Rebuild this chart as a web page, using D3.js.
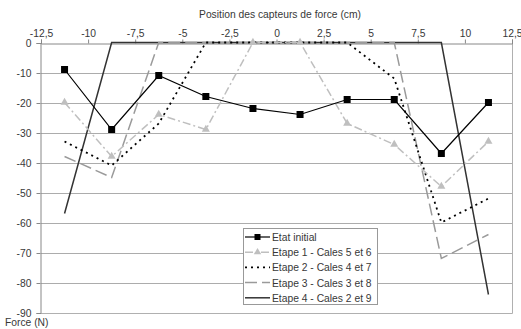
<!DOCTYPE html>
<html>
<head>
<meta charset="utf-8">
<script src="https://cdn.jsdelivr.net/npm/d3@7"></script>
<style>
  body { margin: 0; background: #fff; }
  text { font-family: "Liberation Sans", Arial, sans-serif; font-size: 10.3px; fill: #383838; }
</style>
</head>
<body>
<div id="chart"></div>
<script>
// sensor positions (cm)
var positions = [-11.25, -8.75, -6.25, -3.75, -1.25, 1.25, 3.75, 6.25, 8.75, 11.25];

// force values (N) per step
var etat_initial = [-9, -29, -11, -18, -22, -24, -19, -19, -37, -20];
var etape_1 = [-20, -38, -24, -29, 0, 0, -27, -34, -48, -33];
var etape_2 = [-33, -41, -27, 0, 0, 0, 0, -12, -60, -52];
var etape_3 = [-38, -45, 0, 0, 0, 0, 0, 0, -72, -64];
var etape_4 = [-57, 0, 0, 0, 0, 0, 0, 0, 0, -84];

var series_names = ["Etat initial", "Etape 1 - Cales 5 et 6", "Etape 2 - Cales 4 et 7",
                    "Etape 3 - Cales 3 et 8", "Etape 4 - Cales 2 et 9"];

var x_ticks = [-12.5, -10, -7.5, -5, -2.5, 0, 2.5, 5, 7.5, 10, 12.5];
var y_ticks = [0, -10, -20, -30, -40, -50, -60, -70, -80, -90];

var W = 521, H = 329;
var pl = 41, pr = 512, pt = 42.5, pb = 312.5;   // plot area edges

var x = d3.scaleLinear().domain([-12.5, 12.5]).range([pl, pr]);
var y = d3.scaleLinear().domain([-90, 0]).range([pb, pt]);

var svg = d3.select("#chart").append("svg")
            .attr("width", W).attr("height", H);

// grid lines
svg.append("g").selectAll("line")
   .data(y_ticks.filter(function(d) { return d < 0 && d > -90; }))
   .enter().append("line")
   .attr("x1", pl).attr("x2", pr)
   .attr("y1", function(d) { return Math.round(y(d)) + 0.5; })
   .attr("y2", function(d) { return Math.round(y(d)) + 0.5; })
   .style("stroke", "#acacac").style("stroke-width", 1);

// plot border (right + bottom)
svg.append("path")
   .attr("d", "M" + (pr + 0.5) + "," + pt + "V" + (Math.round(pb) + 0.5) + "H" + pl)
   .style("fill", "none").style("stroke", "#b0b0b0");

var style_axis = function(g) {
  g.select(".domain").style("stroke", "#888");
  g.selectAll(".tick line").style("stroke", "#888");
  g.selectAll("text").style("font-family", "Liberation Sans, Arial, sans-serif")
   .style("font-size", "10.3px").style("fill", "#383838");
};

// y axis
var yAxis = d3.axisLeft(y).tickValues(y_ticks).tickSize(4).tickPadding(5)
              .tickFormat(function(d) { return d; });
svg.append("g").attr("transform", "translate(" + (pl - 0.5) + ",0.5)").call(yAxis).call(style_axis);

// top axis at y = 0
var xAxis = d3.axisTop(x).tickValues(x_ticks).tickSize(4).tickPadding(3)
              .tickFormat(function(d) { return String(d).replace(".", ","); });
svg.append("g").attr("transform", "translate(0," + (Math.round(pt) + 0.5) + ")").call(xAxis).call(style_axis);

// titles
svg.append("text").attr("x", 280).attr("y", 18).attr("text-anchor", "middle")
   .text("Position des capteurs de force (cm)");
svg.append("text").attr("x", 5).attr("y", 326).text("Force (N)");

// series styles
var styles = [
  {data: etat_initial, color: "#000", width: 1.2, dash: null, marker: "square"},
  {data: etape_1, color: "#bfbfbf", width: 1.5, dash: "8,3,2,3", marker: "triangle"},
  {data: etape_2, color: "#000", width: 1.8, dash: "2,4", marker: null},
  {data: etape_3, color: "#9a9a9a", width: 1.5, dash: "12,5", marker: null},
  {data: etape_4, color: "#333", width: 1.5, dash: null, marker: null}
];

var line = d3.line()
             .x(function(d, i) { return x(positions[i]); })
             .y(function(d) { return y(d); });

// draw in reverse so the initial state sits on top
styles.slice().reverse().forEach(function(s) {
  svg.append("path").attr("d", line(s.data))
     .style("fill", "none").style("stroke", s.color)
     .style("stroke-width", s.width)
     .style("stroke-dasharray", s.dash);
  if (s.marker == "square") {
    svg.append("g").selectAll("rect").data(s.data).enter().append("rect")
       .attr("x", function(d, i) { return x(positions[i]) - 3.5; })
       .attr("y", function(d) { return y(d) - 3.5; })
       .attr("width", 7).attr("height", 7).style("fill", s.color);
  } else if (s.marker == "triangle") {
    svg.append("g").selectAll("path").data(s.data).enter().append("path")
       .attr("d", d3.symbol().type(d3.symbolTriangle).size(28))
       .attr("transform", function(d, i) { return "translate(" + x(positions[i]) + "," + y(d) + ")"; })
       .style("fill", s.color);
  }
});

// legend
var lg = svg.append("g");
lg.append("rect").attr("x", 243.5).attr("y", 228.5).attr("width", 134).attr("height", 76)
  .style("fill", "#fff").style("stroke", "#999");
styles.forEach(function(s, i) {
  var ly = 237 + i * 15.2;
  lg.append("line").attr("x1", 245).attr("x2", 270).attr("y1", ly).attr("y2", ly)
    .style("stroke", s.color).style("stroke-width", s.width)
    .style("stroke-dasharray", s.dash);
  if (s.marker == "square") {
    lg.append("rect").attr("x", 254.5).attr("y", ly - 3).attr("width", 6).attr("height", 6)
      .style("fill", s.color);
  } else if (s.marker == "triangle") {
    lg.append("path").attr("d", d3.symbol().type(d3.symbolTriangle).size(24))
      .attr("transform", "translate(257.5," + ly + ")").style("fill", s.color);
  }
  lg.append("text").attr("x", 272).attr("y", ly + 4).text(series_names[i]);
});
</script>
</body>
</html>
